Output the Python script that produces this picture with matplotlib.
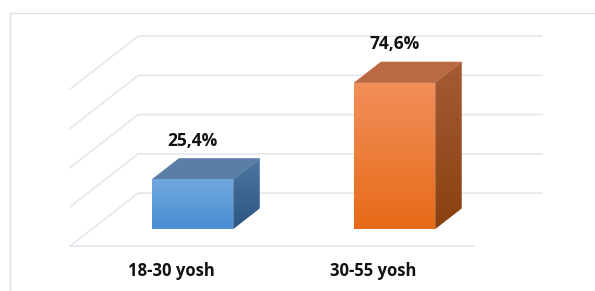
import matplotlib
matplotlib.use("Agg")
import matplotlib.pyplot as plt
import numpy as np
from matplotlib.colors import LinearSegmentedColormap
from matplotlib.patches import Polygon

# chart data
categories = ["18-30 yosh", "30-55 yosh"]
values = [25.4, 74.6]
value_labels = ["25,4%", "74,6%"]
grid_levels = [0, 20, 40, 60, 80]

# bar colours: (front top, front bottom, top face, side top, side bottom)
bar_colors = [
    ("#70a8de", "#4a8dd3", "#5a7ea6", "#4d76a0", "#2c5683"),
    ("#f28f5a", "#e66a18", "#b96a42", "#a55c35", "#8a4010"),
]

GRID = "#e2e5eb"
DX, DY = 0.337, 27.0          # oblique offset for full floor depth
D_FRONT, D_BACK = 0.32, 0.71  # bar front / back depth
BAR_W = 0.4
X_LO, X_HI = -0.5, 1.5


def proj(x, y, d):
    return x + d * DX, y + d * DY


def grad_fill(ax, poly_pts, c_top, c_bot, z):
    pts = np.array(poly_pts)
    poly = Polygon(pts, closed=True, facecolor="none", edgecolor="none")
    ax.add_patch(poly)
    cmap = LinearSegmentedColormap.from_list("g", [c_bot, c_top])
    grad = np.linspace(0, 1, 256).reshape(-1, 1)
    im = ax.imshow(grad, cmap=cmap, origin="lower", aspect="auto",
                   extent=[pts[:, 0].min(), pts[:, 0].max(),
                           pts[:, 1].min(), pts[:, 1].max()],
                   zorder=z, interpolation="bilinear")
    im.set_clip_path(poly)


fig = plt.figure(figsize=(5.95, 2.91), dpi=100, facecolor="white")
ax = fig.add_axes([0, 0, 1, 1])
ax.set_xlim(-0.847, 2.099)
ax.set_ylim(-22.9, 125.4)
ax.axis("off")

# outer frame (top and left edge visible)
fig.add_artist(plt.Line2D([10 / 595, 1], [1 - 13 / 291] * 2,
                          color="#dde1e8", lw=1.0, transform=fig.transFigure))
fig.add_artist(plt.Line2D([10 / 595] * 2, [0, 1 - 13 / 291],
                          color="#dde1e8", lw=1.0, transform=fig.transFigure))

# back wall and side wall gridlines
for lv in grid_levels:
    x0, y0 = proj(X_LO, lv, 0)
    x1, y1 = proj(X_LO, lv, 1)
    x2, y2 = proj(X_HI, lv, 1)
    ax.plot([x0, x1, x2], [y0, y1, y2], color=GRID, lw=1.1, zorder=1,
            solid_joinstyle="miter")
# front floor edge
fx0, fy0 = proj(X_LO, 0, 0)
fx1, fy1 = proj(X_HI, 0, 0)
ax.plot([fx0, fx1], [fy0, fy1], color=GRID, lw=1.1, zorder=1)

for i, (v, lab) in enumerate(zip(values, value_labels)):
    ft, fb, tc, st, sb = bar_colors[i]
    xl, xr = i - BAR_W / 2, i + BAR_W / 2
    front = [proj(xl, 0, D_FRONT), proj(xr, 0, D_FRONT),
             proj(xr, v, D_FRONT), proj(xl, v, D_FRONT)]
    side = [proj(xr, 0, D_FRONT), proj(xr, 0, D_BACK),
            proj(xr, v, D_BACK), proj(xr, v, D_FRONT)]
    top = [proj(xl, v, D_FRONT), proj(xr, v, D_FRONT),
           proj(xr, v, D_BACK), proj(xl, v, D_BACK)]
    grad_fill(ax, side, st, sb, 3)
    ax.add_patch(Polygon(top, closed=True, facecolor=tc,
                         edgecolor=tc, lw=0.5, zorder=3))
    grad_fill(ax, front, ft, fb, 4)

    lx, ly = proj(i, v, D_FRONT)
    _, ly_back = proj(i, v, D_BACK)
    ax.annotate(lab, (lx, ly_back), xytext=(0, 13), textcoords="offset points",
                ha="center", va="center", fontsize=12.5, fontweight="bold",
                family="Open Sans", color="#111111", zorder=5)

    cx, cy = proj(i, 0, 0)
    ax.annotate(categories[i], (cx, cy), xytext=(0, -18),
                textcoords="offset points", ha="center", va="center",
                fontsize=12, fontweight="bold", family="Open Sans",
                color="#111111", zorder=5)

fig.savefig("out.png", dpi=100, facecolor="white")
